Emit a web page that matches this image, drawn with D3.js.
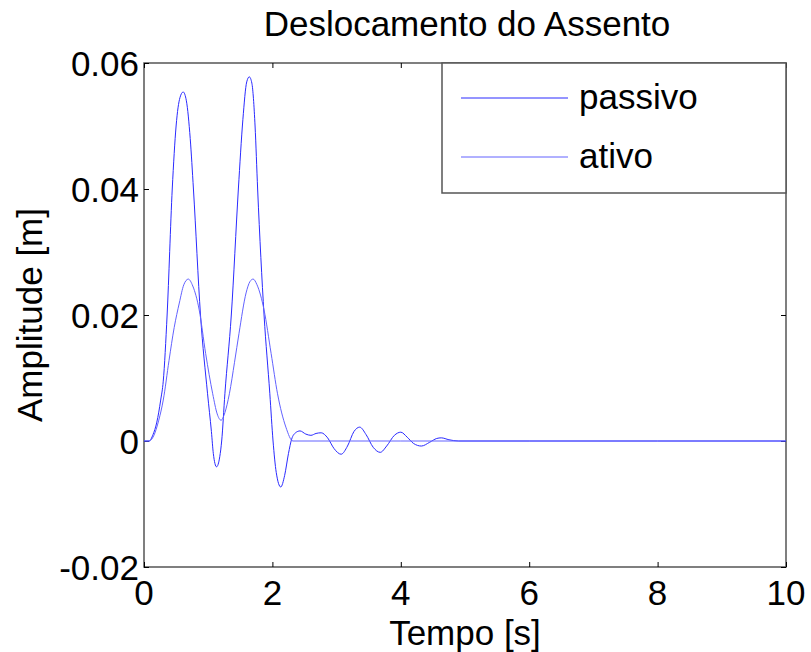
<!DOCTYPE html>
<html>
<head>
<meta charset="utf-8">
<script src="https://cdn.jsdelivr.net/npm/d3@7"></script>
<style>
  html, body { margin: 0; padding: 0; background: #fff; }
  svg text { font-family: Arial, "Liberation Sans", sans-serif; fill: #000; }
</style>
</head>
<body>
<svg id="chart" width="811" height="652"></svg>
<script>
// Seat displacement: passive vs active suspension
const passivoT = [0, 0.08, 0.14, 0.2, 0.26, 0.3, 0.36, 0.44, 0.5, 0.56, 0.61, 0.66, 0.72, 0.77, 0.88, 0.99, 1.05, 1.08, 1.13, 1.18, 1.21, 1.26, 1.36, 1.47, 1.54, 1.6, 1.64, 1.68, 1.73, 1.77, 1.87, 1.96, 2.01, 2.06, 2.13, 2.19, 2.25, 2.3, 2.36, 2.43, 2.52, 2.6, 2.68, 2.76, 2.86, 2.96, 3.07, 3.17, 3.27, 3.36, 3.46, 3.57, 3.68, 3.78, 3.9, 4.0, 4.1, 4.2, 4.32, 4.45, 4.56, 4.63, 4.75, 4.9, 6, 8, 10];
const passivoV = [0, 0, 0.001, 0.003, 0.0065, 0.0095, 0.02, 0.04, 0.05, 0.0545, 0.0554, 0.054, 0.048, 0.04, 0.02, 0.0075, 0.0015, -0.002, -0.0041, -0.0025, 0, 0.0075, 0.02, 0.04, 0.051, 0.057, 0.0578, 0.0568, 0.05, 0.04, 0.02, 0.0075, 0, -0.005, -0.0073, -0.0055, -0.002, 0.0003, 0.0013, 0.0016, 0.0011, 0.0009, 0.0012, 0.0013, 0.0005, -0.0012, -0.0021, -0.0008, 0.0015, 0.0022, 0.001, -0.001, -0.0018, -0.0008, 0.0009, 0.0014, 0.0006, -0.0004, -0.0008, -0.0002, 0.0004, 0.0005, 0.0002, 0, 0, 0, 0];

const ativoT = [0, 0.08, 0.15, 0.23, 0.3, 0.39, 0.47, 0.55, 0.62, 0.69, 0.76, 0.86, 0.96, 1.07, 1.14, 1.2, 1.26, 1.33, 1.41, 1.48, 1.59, 1.65, 1.7, 1.76, 1.87, 1.98, 2.08, 2.21, 2.32, 4, 6, 8, 10];
const ativoV = [0, 0, 0.0008, 0.0033, 0.0065, 0.0128, 0.018, 0.0219, 0.0248, 0.0257, 0.0246, 0.0208, 0.0139, 0.0075, 0.0043, 0.0033, 0.0045, 0.0075, 0.0125, 0.0171, 0.0235, 0.0253, 0.0257, 0.0248, 0.0208, 0.0139, 0.0075, 0.0022, 0, 0, 0, 0, 0];

const xTicks = [0, 2, 4, 6, 8, 10];
const yTicks = [-0.02, 0, 0.02, 0.04, 0.06];
const yTickLabels = ["-0.02", "0", "0.02", "0.04", "0.06"];
const seriesNames = ["passivo", "ativo"];
const seriesColors = ["#2a2aff", "#6262ff"];

const margin = { left: 144, right: 786, top: 63, bottom: 567 };
const svg = d3.select("#chart");

const x = d3.scaleLinear().domain([0, 10]).range([margin.left, margin.right]);
const y = d3.scaleLinear().domain([-0.02, 0.06]).range([margin.bottom, margin.top]);

const fontSize = 35;
const tickFontSize = 34;
const axisColor = "#555";

// plot box
svg.append("rect")
  .attr("x", margin.left).attr("y", margin.top)
  .attr("width", margin.right - margin.left).attr("height", margin.bottom - margin.top)
  .attr("fill", "#fff").attr("stroke", axisColor).attr("stroke-width", 1.5);

// inward ticks on all four sides
function styleAxis(g) {
  g.select(".domain").remove();
  g.selectAll(".tick line").attr("stroke", "#000").attr("stroke-width", 1);
  g.selectAll(".tick text").remove();
}
svg.append("g").attr("transform", `translate(0,${margin.bottom})`)
  .call(d3.axisTop(x).tickValues(xTicks).tickSize(5)).call(styleAxis);
svg.append("g").attr("transform", `translate(0,${margin.top})`)
  .call(d3.axisBottom(x).tickValues(xTicks).tickSize(5)).call(styleAxis);
svg.append("g").attr("transform", `translate(${margin.left},0)`)
  .call(d3.axisRight(y).tickValues(yTicks).tickSize(5)).call(styleAxis);
svg.append("g").attr("transform", `translate(${margin.right},0)`)
  .call(d3.axisLeft(y).tickValues(yTicks).tickSize(5)).call(styleAxis);

// tick labels
svg.append("g").selectAll("text").data(xTicks).join("text")
  .attr("x", d => x(d)).attr("y", 605)
  .attr("text-anchor", "middle").attr("font-size", tickFontSize + 1)
  .text(d => d);
svg.append("g").selectAll("text").data(yTicks).join("text")
  .attr("x", margin.left - 5).attr("y", d => y(d))
  .attr("dy", "0.36em")
  .attr("text-anchor", "end").attr("font-size", fontSize)
  .text((d, i) => yTickLabels[i]);

// curves
const line = d3.line()
  .x(d => x(d[0])).y(d => y(d[1]))
  .curve(d3.curveMonotoneX);
const series = [
  d3.zip(passivoT, passivoV),
  d3.zip(ativoT, ativoV)
];
svg.append("g").selectAll("path").data(series).join("path")
  .attr("d", line)
  .attr("fill", "none")
  .attr("stroke", (d, i) => seriesColors[i])
  .attr("stroke-width", 1);

// title and axis labels
svg.append("text").attr("x", (margin.left + margin.right) / 2 + 2).attr("y", 36)
  .attr("text-anchor", "middle").attr("font-size", fontSize)
  .text("Deslocamento do Assento");
svg.append("text").attr("x", (margin.left + margin.right) / 2).attr("y", 645)
  .attr("text-anchor", "middle").attr("font-size", fontSize)
  .text("Tempo [s]");
svg.append("text")
  .attr("transform", `translate(42,${(margin.top + margin.bottom) / 2}) rotate(-90)`)
  .attr("text-anchor", "middle").attr("font-size", fontSize)
  .text("Amplitude [m]");

// legend
const legend = svg.append("g");
legend.append("rect")
  .attr("x", 442).attr("y", margin.top)
  .attr("width", margin.right - 442).attr("height", 130)
  .attr("fill", "#fff").attr("stroke", axisColor).attr("stroke-width", 1.5);
const legendRows = [98, 157];
seriesNames.forEach((name, i) => {
  legend.append("line")
    .attr("x1", 461).attr("x2", 568)
    .attr("y1", legendRows[i]).attr("y2", legendRows[i])
    .attr("stroke", seriesColors[i]).attr("stroke-width", 1);
  legend.append("text")
    .attr("x", 579).attr("y", legendRows[i]).attr("dy", "0.3em")
    .attr("font-size", fontSize)
    .text(name);
});
</script>
</body>
</html>
